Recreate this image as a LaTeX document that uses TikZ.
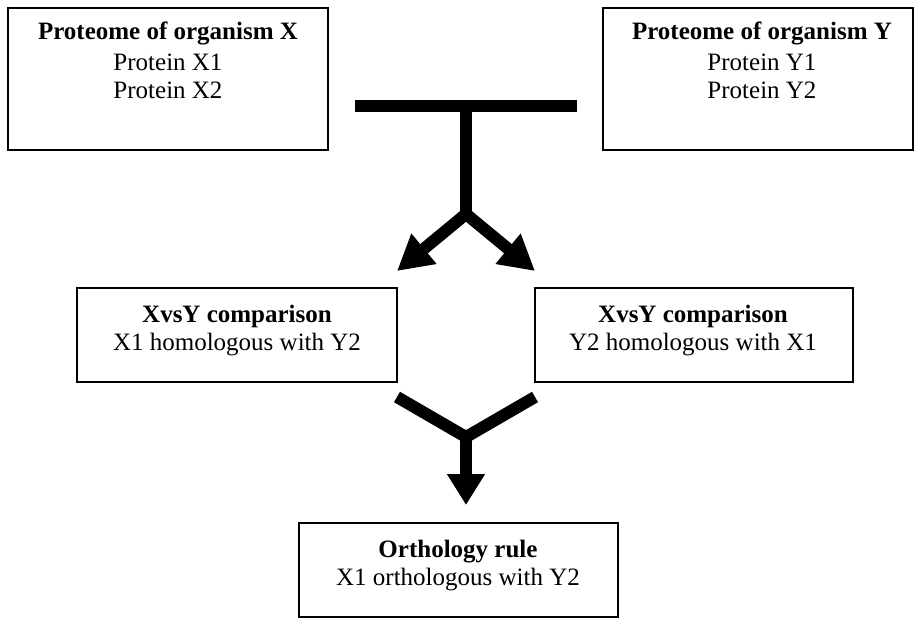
\documentclass[tikz,border=0pt]{standalone}
\usepackage{fontspec}
\setmainfont{Liberation Serif}
\usetikzlibrary{arrows.meta}
\tikzset{
  bighead/.tip={Triangle[length=35pt,width=37pt]},
  downhead/.tip={Triangle[length=31pt,width=36pt]}
}
\begin{document}
\begin{tikzpicture}[x=1pt,y=-1pt,
  box/.style={draw, line width=1.1pt, inner sep=0pt},
  txt/.style={align=center, inner sep=0pt, anchor=north, font=\fontsize{25}{28.5}\selectfont},
  bar/.style={line width=12pt, line cap=butt, line join=miter}
]
\useasboundingbox (0,0) rectangle (914,619);
% boxes
\node[box, minimum width=320pt, minimum height=142pt] (bx) at (168,79) {};
\node[box, minimum width=310pt, minimum height=142pt] (by) at (758,79) {};
\node[box, minimum width=320pt, minimum height=94pt] (ml) at (237,335) {};
\node[box, minimum width=318pt, minimum height=94pt] (mr) at (694,335) {};
\node[box, minimum width=319pt, minimum height=94pt] (bo) at (458.5,570) {};
% texts
\node[txt] (tx) at (168,22) {\textbf{Proteome of organism X}\\[2pt]Protein X1\\Protein X2};
\node[txt] (ty) at (762,22) {\textbf{Proteome of organism Y}\\[2pt]Protein Y1\\Protein Y2};
\node[txt] (tml) at (237,304.5) {\textbf{XvsY comparison}\\X1 homologous with Y2};
\node[txt] (tmr) at (693,304.5) {\textbf{XvsY comparison}\\Y2 homologous with X1};
\node[txt] (tbo) at (458,539.5) {\textbf{Orthology rule}\\X1 orthologous with Y2};
% T connector
\coordinate (tL) at (355,105.5);
\coordinate (tR) at (577,105.5);
\coordinate (tJ) at (466,105.5);
\coordinate (tK) at (466,214);
\coordinate (aL) at (397,271);
\coordinate (aR) at (535,271);
\draw[bar] (tL) -- (tR);
\draw[bar] (tJ) -- (tK);
\draw[bar, bighead-bighead] (aL) -- (tK) -- (aR);
% Y connector
\coordinate (vL) at (397,397);
\coordinate (vR) at (535,397);
\coordinate (vJ) at (466,437);
\coordinate (vT) at (466,505);
\draw[bar] (vL) -- (vJ) -- (vR);
\draw[bar, -downhead] (vJ) -- (vT);
\end{tikzpicture}
\end{document}
